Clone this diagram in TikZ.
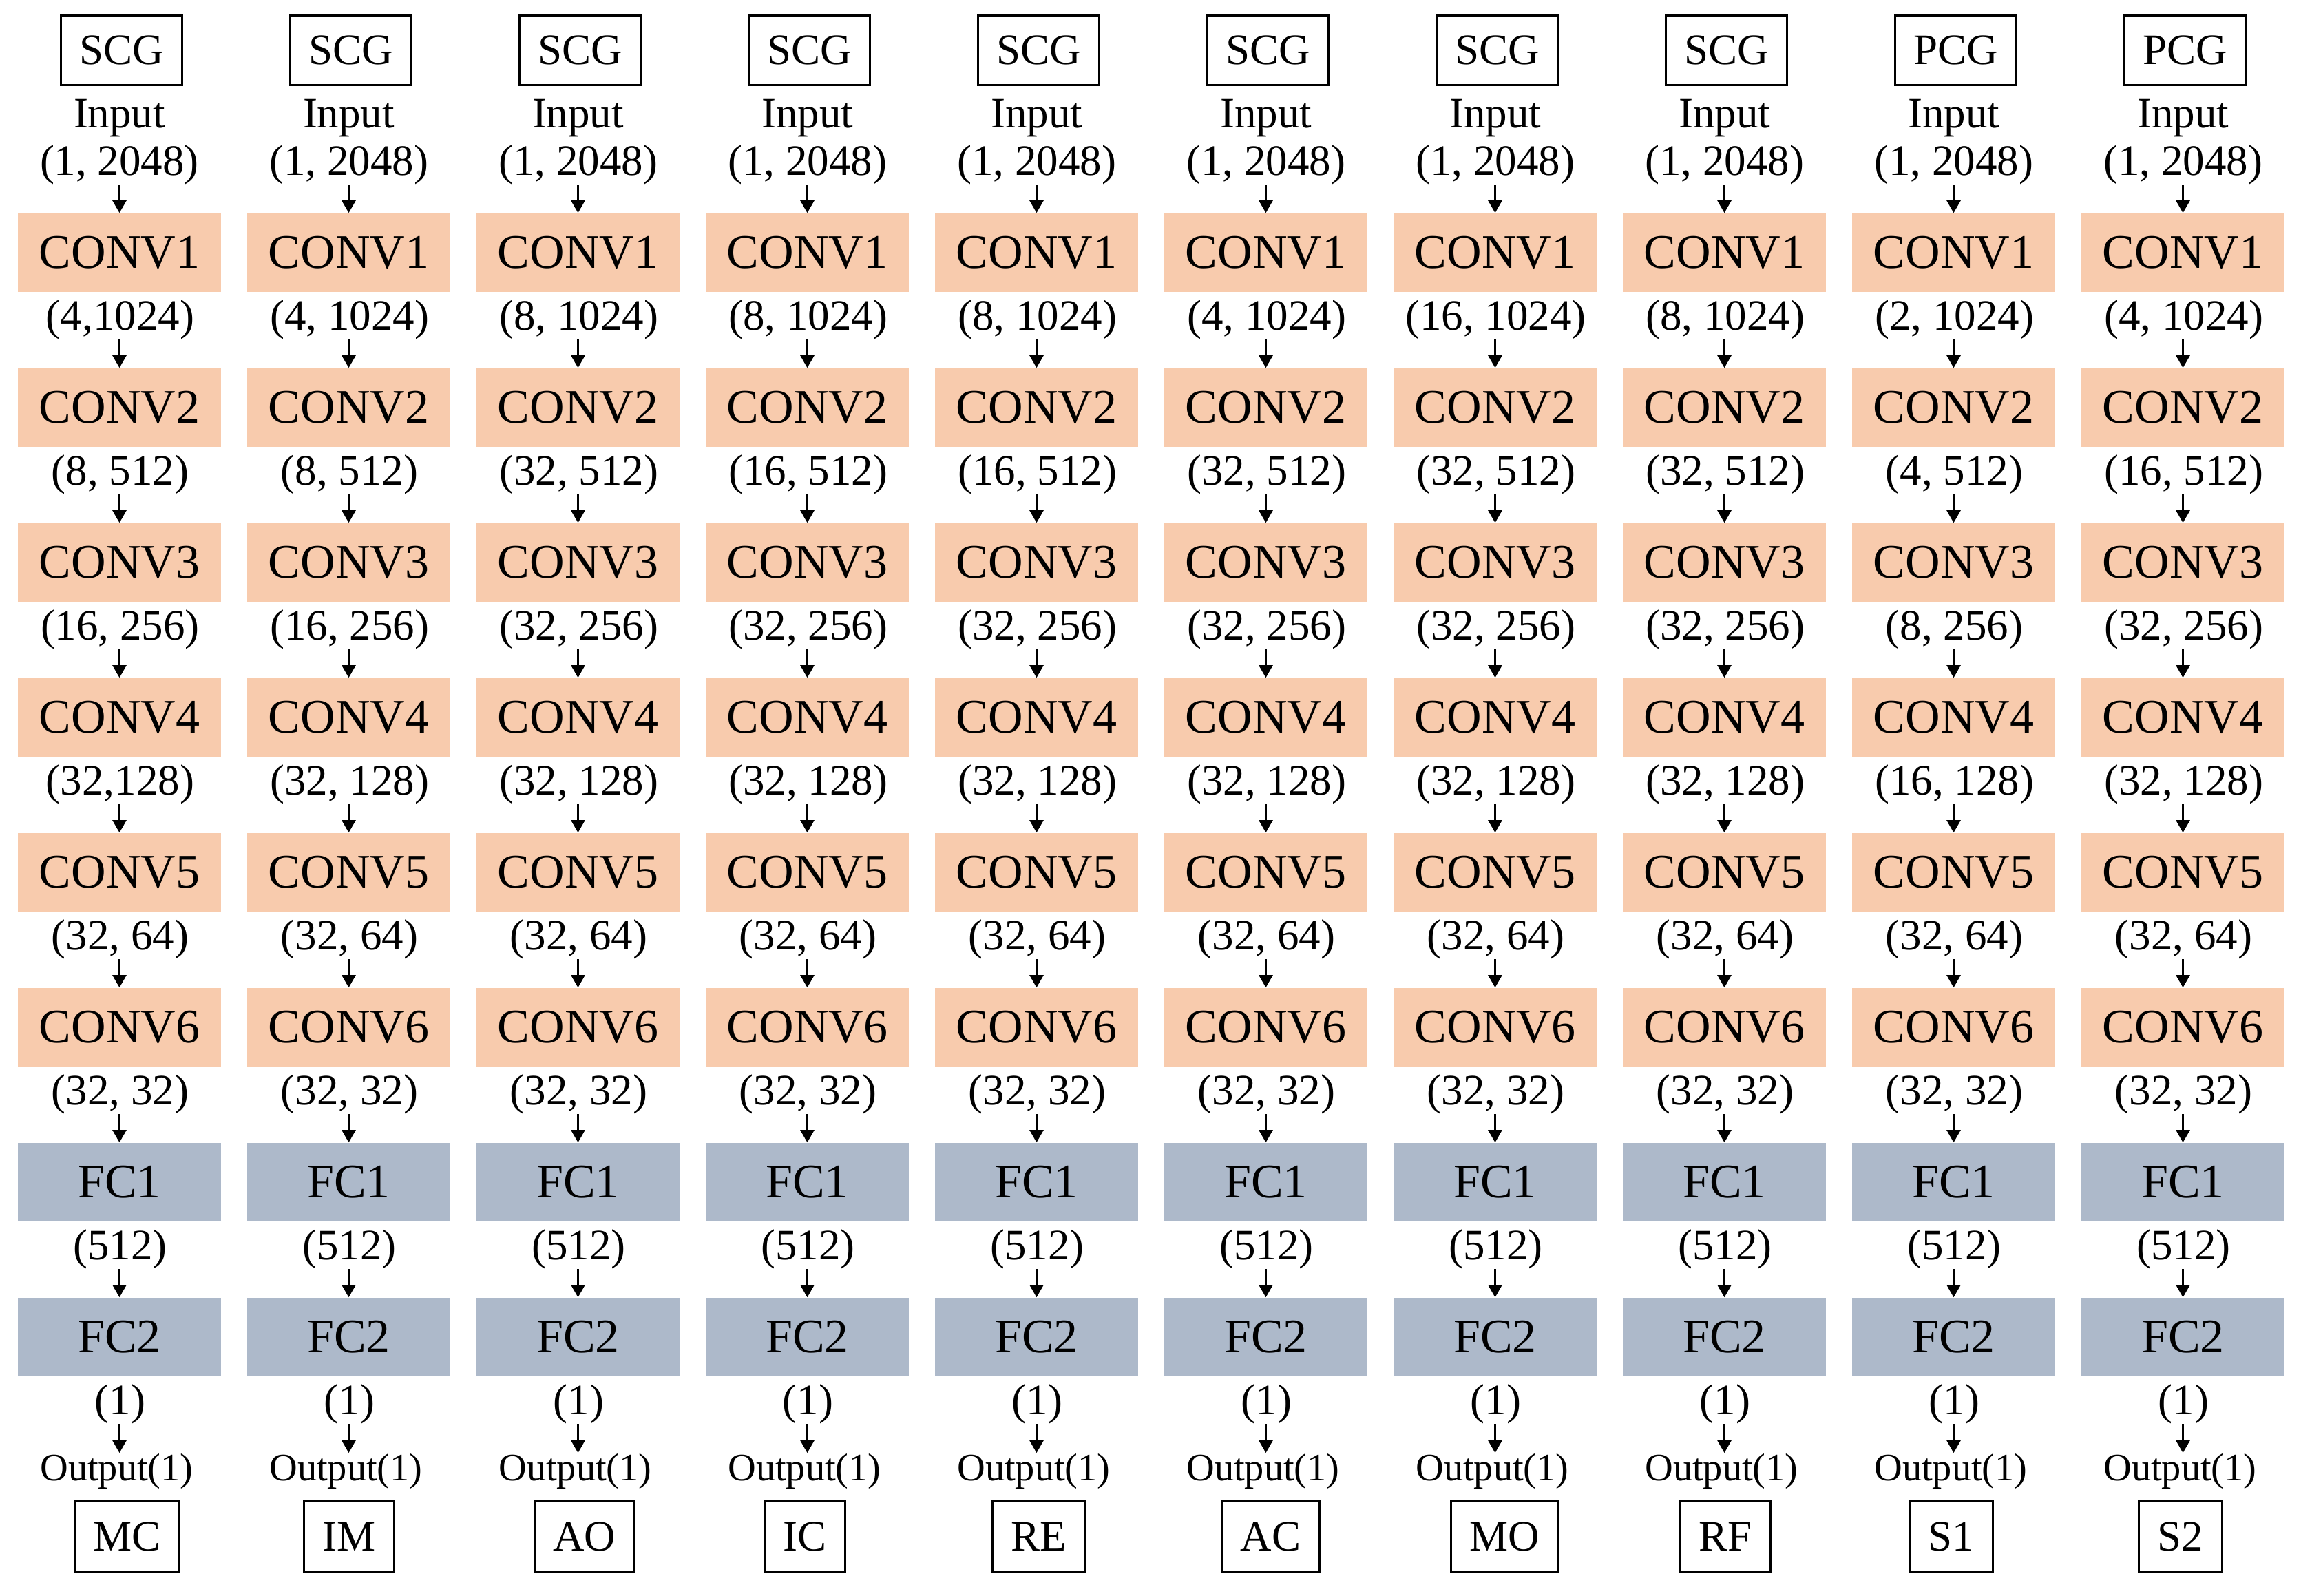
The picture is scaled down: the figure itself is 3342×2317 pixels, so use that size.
\documentclass[tikz,border=0pt]{standalone}
\usepackage{fontspec}
\setmainfont{Liberation Serif}
\usetikzlibrary{arrows.meta}
\definecolor{convc}{HTML}{F8CBAD}
\definecolor{fcc}{HTML}{ADB9CA}
\tikzset{
  layer/.style={minimum width=73.6pt, minimum height=28.5pt, inner sep=0pt,
    font=\fontsize{17.5pt}{20pt}\selectfont},
  convbox/.style={layer, fill=convc},
  fcbox/.style={layer, fill=fcc},
  tagbox/.style={draw, line width=0.75pt, minimum height=25.4pt, inner xsep=6.7pt,
    inner ysep=0pt, font=\fontsize{15.75pt}{18pt}\selectfont},
  dimlabel/.style={inner sep=0pt, anchor=base, font=\fontsize{15.75pt}{18pt}\selectfont},
  outlabel/.style={inner sep=0pt, anchor=base, font=\fontsize{14.1pt}{16pt}\selectfont},
  flow/.style={-{Triangle[length=4.5pt,width=5pt]}, line width=0.625pt},
}
% #1 column index, #2 top tag, #3 bottom tag, #4 bottom tag x, #5-#8 dims after CONV1-CONV4
\newcommand\netcolumn[8]{%
  \pgfmathsetmacro\cx{173.5+333*#1}
  \node[tagbox] (top#1) at (\cx+3,73) {#2};
  \node[dimlabel] (inp#1) at (\cx,185.6) {Input};
  \node[dimlabel] (d#1-0) at (\cx,254.5) {(1, 2048)};
  \node[convbox] (b#1-1) at (\cx,367) {CONV1};
  \node[dimlabel] (d#1-1) at (\cx+1,479) {#5};
  \node[convbox] (b#1-2) at (\cx,592) {CONV2};
  \node[dimlabel] (d#1-2) at (\cx+1,704) {#6};
  \node[convbox] (b#1-3) at (\cx,817) {CONV3};
  \node[dimlabel] (d#1-3) at (\cx+1,929) {#7};
  \node[convbox] (b#1-4) at (\cx,1042) {CONV4};
  \node[dimlabel] (d#1-4) at (\cx+1,1154) {#8};
  \node[convbox] (b#1-5) at (\cx,1267) {CONV5};
  \node[dimlabel] (d#1-5) at (\cx+1,1379) {(32, 64)};
  \node[convbox] (b#1-6) at (\cx,1492) {CONV6};
  \node[dimlabel] (d#1-6) at (\cx+1,1604) {(32, 32)};
  \node[fcbox] (b#1-7) at (\cx,1717) {FC1};
  \node[dimlabel] (d#1-7) at (\cx+1,1829) {(512)};
  \node[fcbox] (b#1-8) at (\cx,1942) {FC2};
  \node[dimlabel] (d#1-8) at (\cx+1,2054) {(1)};
  \node[outlabel] (o#1) at (\cx-4,2150) {Output(1)};
  \node[tagbox] (e#1) at (#4,2231.5) {#3};
  \foreach \k [count=\n from 1] in {0,...,7}
    \draw[flow] (d#1-\k.south -| b#1-\n.north) -- (b#1-\n.north);
  \draw[flow] (d#1-8.south -| b#1-8.south) -- (o#1.north -| b#1-8.south);
}
\begin{document}
\begin{tikzpicture}[x=0.25pt, y=-0.25pt]
  \fill[white] (0,0) rectangle (3342,2317);
  \useasboundingbox (0,0) rectangle (3342,2317);
  \netcolumn{0}{SCG}{MC}{185}{(4,1024)}{(8, 512)}{(16, 256)}{(32,128)}
  \netcolumn{1}{SCG}{IM}{507}{(4, 1024)}{(8, 512)}{(16, 256)}{(32, 128)}
  \netcolumn{2}{SCG}{AO}{848.6}{(8, 1024)}{(32, 512)}{(32, 256)}{(32, 128)}
  \netcolumn{3}{SCG}{IC}{1169}{(8, 1024)}{(16, 512)}{(32, 256)}{(32, 128)}
  \netcolumn{4}{SCG}{RE}{1508.6}{(8, 1024)}{(16, 512)}{(32, 256)}{(32, 128)}
  \netcolumn{5}{SCG}{AC}{1845.7}{(4, 1024)}{(32, 512)}{(32, 256)}{(32, 128)}
  \netcolumn{6}{SCG}{MO}{2185}{(16, 1024)}{(32, 512)}{(32, 256)}{(32, 128)}
  \netcolumn{7}{SCG}{RF}{2506}{(8, 1024)}{(32, 512)}{(32, 256)}{(32, 128)}
  \netcolumn{8}{PCG}{S1}{2834}{(2, 1024)}{(4, 512)}{(8, 256)}{(16, 128)}
  \netcolumn{9}{PCG}{S2}{3167}{(4, 1024)}{(16, 512)}{(32, 256)}{(32, 128)}
\end{tikzpicture}
\end{document}
